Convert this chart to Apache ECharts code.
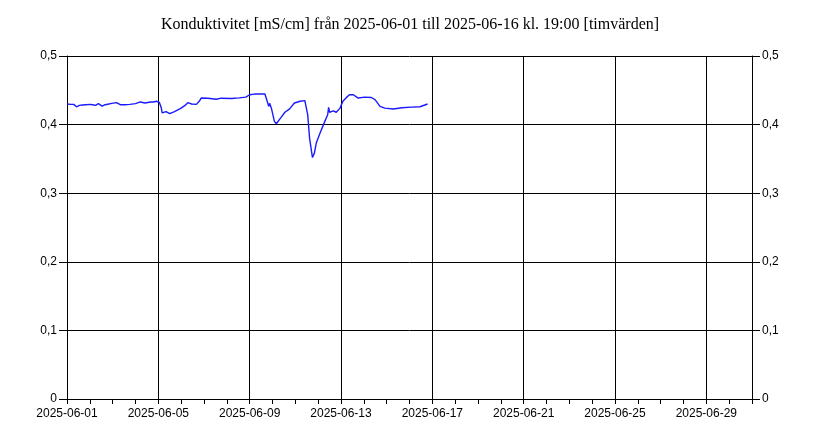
<!DOCTYPE html>
<html>
<head>
<meta charset="utf-8">
<script src="https://cdn.jsdelivr.net/npm/echarts@6/dist/echarts.min.js"></script>
<style>html,body{margin:0;padding:0;background:#fff}#c{width:820px;height:444px}</style>
</head>
<body>
<div id="c"></div>
<script>
var titleText = 'Konduktivitet [mS/cm] från 2025-06-01 till 2025-06-16 kl. 19:00 [timvärden]';
var axisStart = '2025-06-01T00:00Z';
var axisEnd = '2025-07-01T00:00Z';
var yTicks = [0, 0.1, 0.2, 0.3, 0.4, 0.5];
var times = [
'2025-06-01T00:00Z','2025-06-01T04:00Z','2025-06-01T07:00Z','2025-06-01T10:00Z','2025-06-01T13:00Z','2025-06-01T16:00Z','2025-06-01T20:00Z',
'2025-06-02T00:00Z','2025-06-02T03:00Z','2025-06-02T06:00Z','2025-06-02T09:00Z','2025-06-02T13:00Z','2025-06-02T16:00Z','2025-06-02T20:00Z','2025-06-02T23:00Z',
'2025-06-03T04:00Z','2025-06-03T08:00Z','2025-06-03T13:00Z','2025-06-03T18:00Z',
'2025-06-04T00:00Z','2025-06-04T05:00Z','2025-06-04T10:00Z','2025-06-04T16:00Z','2025-06-04T19:00Z','2025-06-04T22:00Z',
'2025-06-05T01:00Z','2025-06-05T02:00Z','2025-06-05T03:00Z','2025-06-05T04:00Z','2025-06-05T05:00Z','2025-06-05T08:00Z','2025-06-05T12:00Z','2025-06-05T17:00Z',
'2025-06-06T00:00Z','2025-06-06T04:00Z','2025-06-06T07:00Z','2025-06-06T09:00Z','2025-06-06T11:00Z','2025-06-06T16:00Z','2025-06-06T19:00Z','2025-06-06T21:00Z',
'2025-06-07T04:00Z','2025-06-07T13:00Z','2025-06-07T18:00Z',
'2025-06-08T05:00Z','2025-06-08T13:00Z','2025-06-08T20:00Z',
'2025-06-09T00:00Z','2025-06-09T05:00Z','2025-06-09T16:00Z','2025-06-09T18:00Z','2025-06-09T19:00Z','2025-06-09T20:00Z','2025-06-09T21:00Z','2025-06-09T23:00Z',
'2025-06-10T02:00Z','2025-06-10T04:00Z','2025-06-10T06:00Z','2025-06-10T09:00Z','2025-06-10T13:00Z','2025-06-10T18:00Z','2025-06-10T23:00Z',
'2025-06-11T05:00Z','2025-06-11T10:00Z','2025-06-11T12:00Z','2025-06-11T13:00Z','2025-06-11T15:00Z','2025-06-11T18:00Z','2025-06-11T20:00Z','2025-06-11T22:00Z',
'2025-06-12T02:00Z','2025-06-12T07:00Z','2025-06-12T10:00Z','2025-06-12T11:00Z','2025-06-12T12:00Z','2025-06-12T16:00Z','2025-06-12T19:00Z','2025-06-12T23:00Z',
'2025-06-13T02:00Z','2025-06-13T06:00Z','2025-06-13T09:00Z','2025-06-13T13:00Z','2025-06-13T18:00Z',
'2025-06-14T01:00Z','2025-06-14T08:00Z','2025-06-14T12:00Z','2025-06-14T17:00Z','2025-06-14T22:00Z',
'2025-06-15T07:00Z','2025-06-15T16:00Z',
'2025-06-16T02:00Z','2025-06-16T11:00Z','2025-06-16T19:00Z'
];
var values = [
0.430,0.4295,0.4295,0.426,0.428,0.4285,0.429,
0.4295,0.429,0.428,0.4305,0.427,0.429,0.430,0.431,
0.432,0.429,0.429,0.4295,
0.4305,0.433,0.4315,0.433,0.433,0.434,
0.4325,0.433,0.425,0.417,0.416,0.419,0.416,0.419,
0.424,0.428,0.432,0.434,0.430,0.4295,0.434,0.4387,
0.4385,0.437,0.4385,
0.438,0.439,0.440,
0.4435,0.4445,0.4445,0.444,0.4315,0.4265,0.431,0.423,
0.4047,0.4012,0.4032,0.4105,0.418,0.423,0.4315,
0.434,0.435,0.434,0.4145,0.380,0.352,0.3584,0.373,
0.3876,0.4047,0.4145,0.425,0.418,0.420,0.418,0.424,
0.434,0.440,0.4435,0.4435,0.4387,
0.440,0.4395,0.436,0.4265,0.424,
0.4227,0.4245,
0.4255,0.426,0.430
];

var DAY = 86400000;
var tMin = Date.parse(axisStart);
var tMax = Date.parse(axisEnd);
var data = times.map(function (t, i) { return [Date.parse(t), values[i]]; });
function pad(n){return (n<10?'0':'')+n;}
function fmtDate(v){var d=new Date(v);return d.getUTCFullYear()+'-'+pad(d.getUTCMonth()+1)+'-'+pad(d.getUTCDate());}
function fmtY(v){return v===0?'0':v.toFixed(1).replace('.',',');}
var font = 'Liberation Sans, Arial, sans-serif';
var yAxisBase = function(pos){
  return {
    type:'value', position:pos, min:yTicks[0], max:yTicks[yTicks.length-1], interval:0.1,
    axisLine:{show:true,lineStyle:{color:'#000',width:1}},
    axisTick:{show:true,length:8,lineStyle:{color:'#000'}},
    axisLabel:{formatter:fmtY,color:'#000',fontFamily:font,fontSize:12,margin:10},
    splitLine:{show:pos==='left',lineStyle:{color:'#000',width:1}}
  };
};
var chart = echarts.init(document.getElementById('c'));
chart.setOption({
  animation:false,
  backgroundColor:'#fff',
  title:{text:titleText,left:'center',top:12,textStyle:{fontFamily:'Liberation Serif, Times New Roman, serif',fontWeight:'normal',fontSize:16,color:'#000'}},
  grid:{left:67,right:68,top:56,bottom:45,containLabel:false},
  xAxis:{
    type:'value', min:tMin, max:tMax, interval:4*DAY,
    axisLine:{show:true,onZero:false,lineStyle:{color:'#000',width:1}},
    axisTick:{show:true,length:5,lineStyle:{color:'#000'}},
    minorTick:{show:true,splitNumber:4,length:5,lineStyle:{color:'#000'}},
    axisLabel:{formatter:fmtDate,color:'#000',fontFamily:font,fontSize:12,margin:9,showMaxLabel:false},
    splitLine:{show:true,lineStyle:{color:'#000',width:1}}
  },
  yAxis:[yAxisBase('left'), yAxisBase('right')],
  series:[{
    type:'line', data:data, showSymbol:false, symbol:'none',
    lineStyle:{color:'#1a1aff',width:1.4}, itemStyle:{color:'#1a1aff'}
  }]
});
</script>
</body>
</html>
